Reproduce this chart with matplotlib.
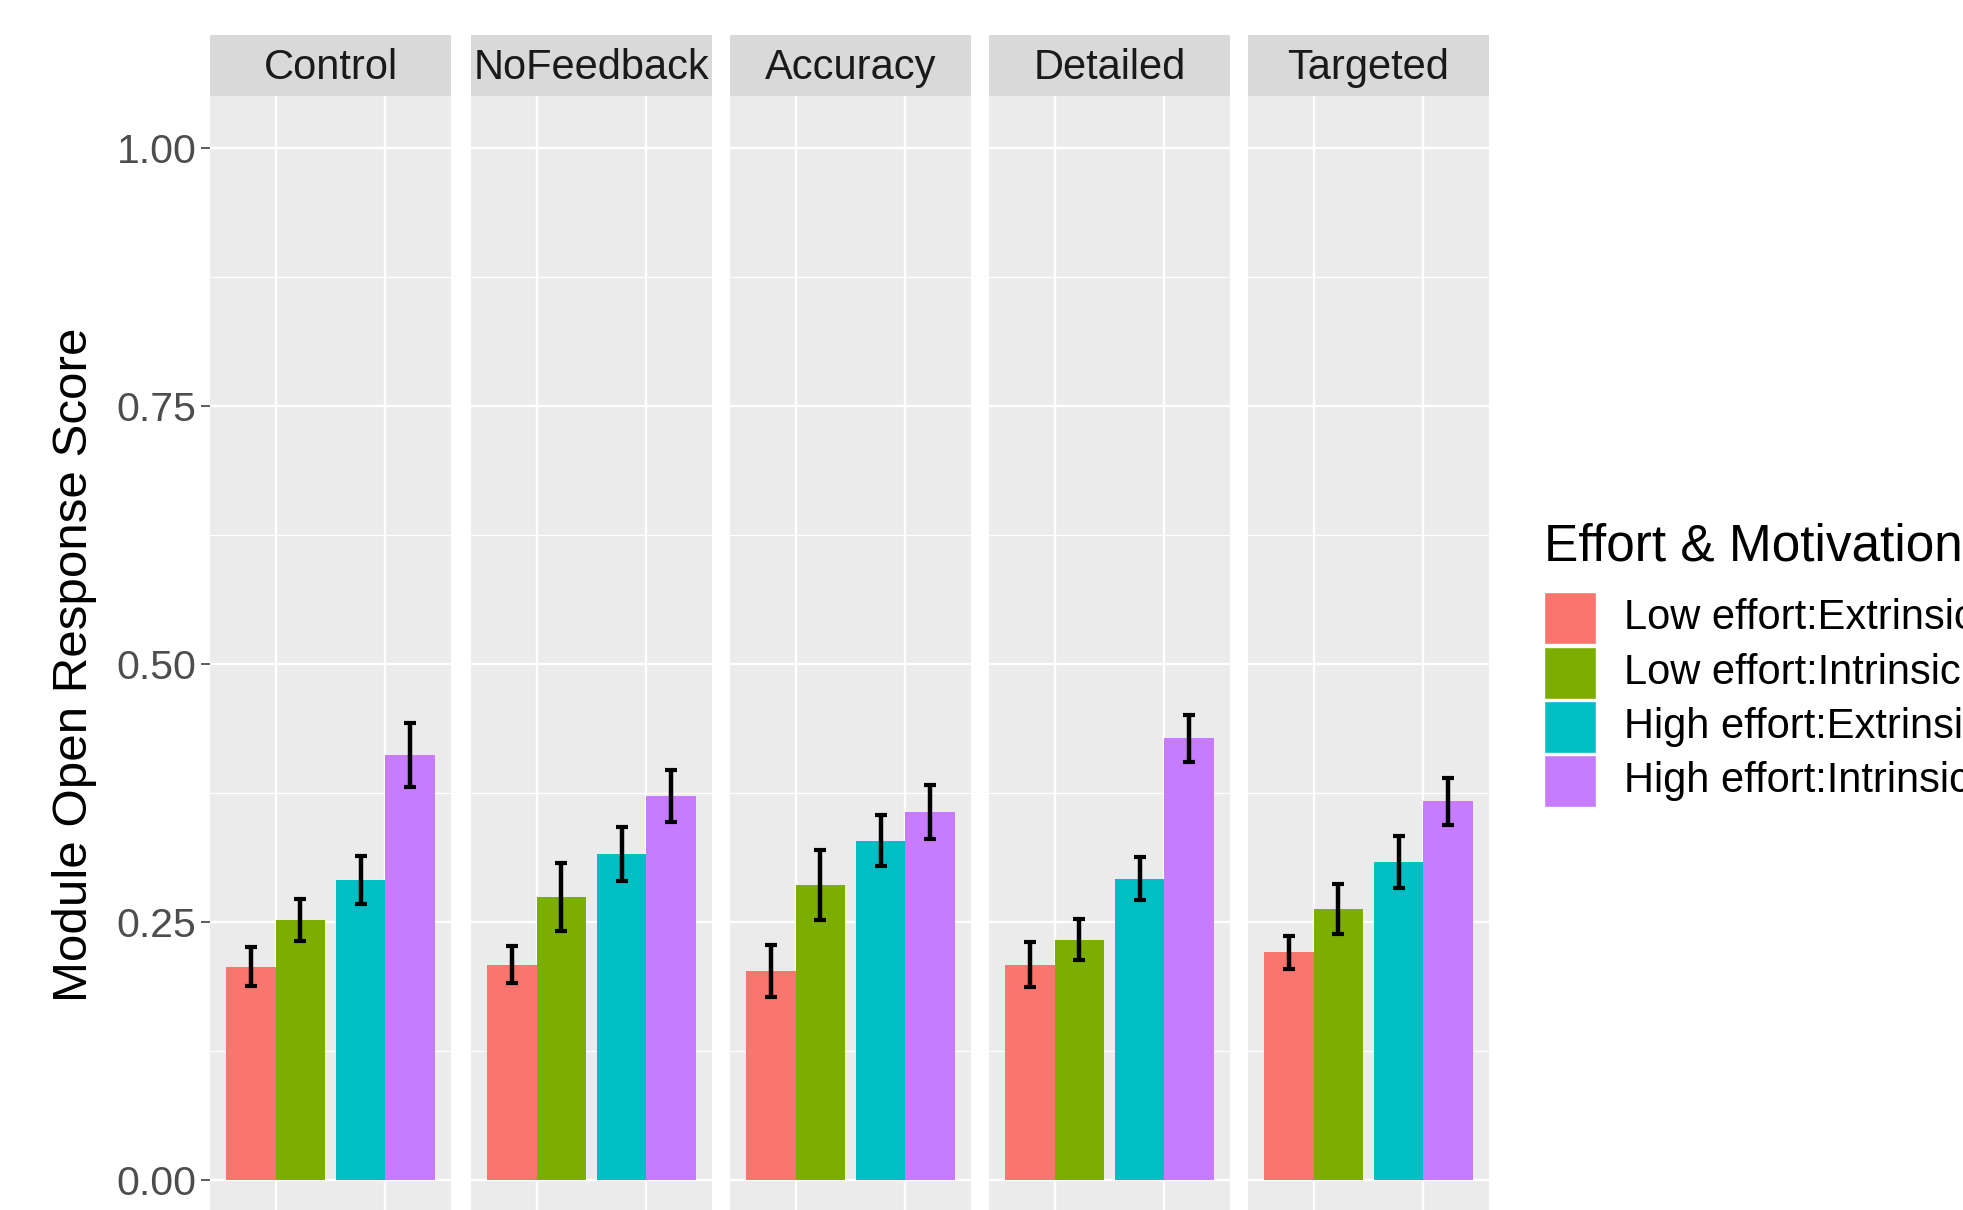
import matplotlib
matplotlib.use("Agg")
import matplotlib.pyplot as plt
from matplotlib.patches import Rectangle
import numpy as np

plt.rcParams["font.family"] = ["Liberation Sans", "DejaVu Sans"]

# Facets (feedback condition) and fill groups (effort x motivation)
conditions = ["Control", "NoFeedback", "Accuracy", "Detailed", "Targeted"]
groups = ["Low effort:Extrinsic", "Low effort:Intrinsic",
          "High effort:Extrinsic", "High effort:Intrinsic"]
group_effort = [0, 0, 1, 1]          # which x category (Low / High effort)
group_dodge = [-1, 1, -1, 1]         # side within the dodged pair
colors = ["#F8766D", "#7CAE00", "#00BFC4", "#C77CFF"]

# Mean score per group, one list per condition
mean_control = [0.207, 0.252, 0.291, 0.412]
mean_nofeedback = [0.209, 0.274, 0.316, 0.372]
mean_accuracy = [0.203, 0.286, 0.329, 0.357]
mean_detailed = [0.209, 0.233, 0.292, 0.428]
mean_targeted = [0.221, 0.263, 0.308, 0.367]

# Standard error per group
se_control = [0.019, 0.020, 0.023, 0.031]
se_nofeedback = [0.018, 0.033, 0.026, 0.025]
se_accuracy = [0.025, 0.034, 0.025, 0.026]
se_detailed = [0.022, 0.020, 0.021, 0.023]
se_targeted = [0.016, 0.024, 0.025, 0.023]

means = [mean_control, mean_nofeedback, mean_accuracy, mean_detailed, mean_targeted]
ses = [se_control, se_nofeedback, se_accuracy, se_detailed, se_targeted]

y_ticks = [0.0, 0.25, 0.5, 0.75, 1.0]
y_tick_labels = ["0.00", "0.25", "0.50", "0.75", "1.00"]

W, H = 1963, 1210
fig = plt.figure(figsize=(W / 100, H / 100), dpi=100)
fig.patch.set_facecolor("white")

panel_left = [210, 471, 730, 989, 1248]
panel_w = 241
panel_top = 96
panel_bottom = 1232
strip_h = 61

dodge_width = 0.9
bar_w = dodge_width / 2

for i, cond in enumerate(conditions):
    ax = fig.add_axes([panel_left[i] / W, 1 - panel_bottom / H,
                       panel_w / W, (panel_bottom - panel_top) / H])
    ax.set_facecolor("#EBEBEB")
    ax.set_xlim(0.4, 2.6)
    ax.set_ylim(-0.05, 1.05)
    for s in ax.spines.values():
        s.set_visible(False)

    # grid
    for v in [0.125, 0.375, 0.625, 0.875]:
        ax.axhline(v, color="white", lw=0.9, zorder=0.5)
    for v in y_ticks:
        ax.axhline(v, color="white", lw=1.7, zorder=0.6)
    for xv in [1, 2]:
        ax.axvline(xv, color="white", lw=1.7, zorder=0.6)

    x = np.array([1 + group_effort[g] + group_dodge[g] * bar_w / 2 for g in range(4)])
    ax.bar(x, means[i], width=bar_w, color=colors, zorder=2, linewidth=0)
    ax.errorbar(x, means[i], yerr=ses[i], fmt="none", ecolor="black",
                elinewidth=3.2, capsize=4.5, capthick=3.0, zorder=3)

    ax.set_xticks([])
    if i == 0:
        ax.set_yticks(y_ticks)
        ax.set_yticklabels(y_tick_labels)
        ax.tick_params(axis="y", length=6.3, width=1.1, color="#333333",
                       labelcolor="#4D4D4D", labelsize=29.5, pad=3.5)
    else:
        ax.set_yticks([])

    # facet strip
    h = strip_h / (panel_bottom - panel_top)
    ax.add_patch(Rectangle((0, 1), 1, h, transform=ax.transAxes,
                           facecolor="#D9D9D9", edgecolor="none", clip_on=False))
    ax.text(0.5, 1 + h / 2 - 0.002, cond, transform=ax.transAxes, ha="center",
            va="center", fontsize=30, color="#1A1A1A")

fig.text(75 / W, 1 - 665 / H, "Module Open Response Score", rotation=90,
         ha="center", va="center", fontsize=35.5, color="black")

# legend
key_x, key_w, key_h = 1544, 52, 52
row_y = [618, 673, 727, 781]
fig.text(key_x / W, 1 - 547 / H, "Effort & Motivation", ha="left",
         va="center", fontsize=37, color="black")
for g, lab in enumerate(groups):
    fig.patches.append(Rectangle((key_x / W, 1 - (row_y[g] + key_h / 2) / H),
                                 key_w / W, key_h / H, transform=fig.transFigure,
                                 facecolor=colors[g], edgecolor="white", lw=1))
    fig.text(1624 / W, 1 - row_y[g] / H, lab, ha="left", va="center",
             fontsize=30, color="black")

fig.savefig("out.png", dpi=100, facecolor="white")
